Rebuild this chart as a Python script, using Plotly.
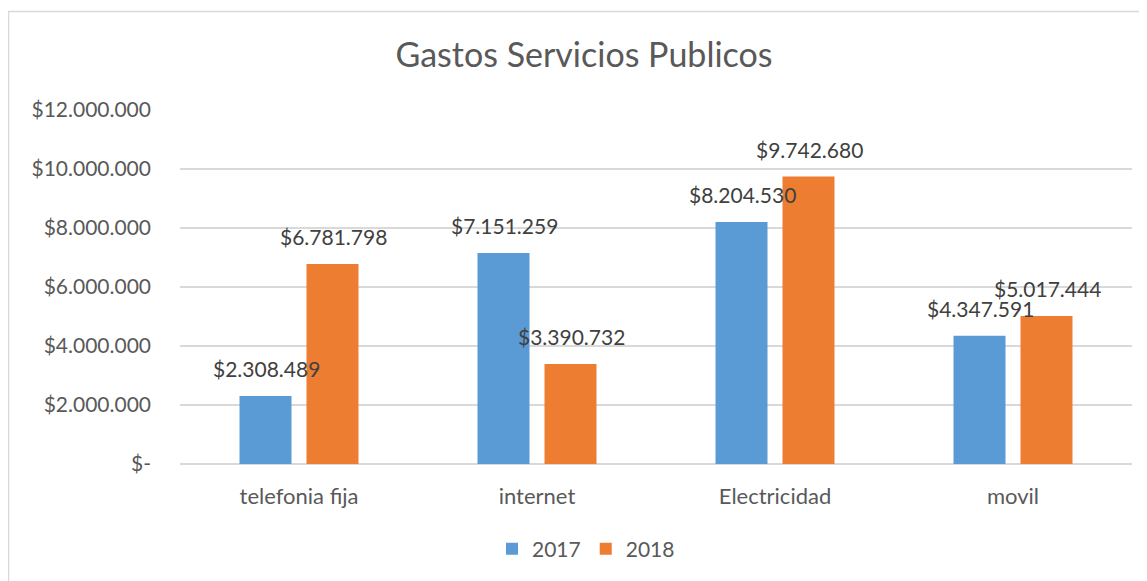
import plotly.graph_objects as go

categories = ["telefonia fija", "internet", "Electricidad", "movil"]
series_names = ["2017", "2018"]
values_2017 = [2308489, 7151259, 8204530, 4347591]
values_2018 = [6781798, 3390732, 9742680, 5017444]
tick_vals = [0, 2000000, 4000000, 6000000, 8000000, 10000000, 12000000]
tick_text = ["$-", "$2.000.000", "$4.000.000", "$6.000.000", "$8.000.000", "$10.000.000", "$12.000.000"]
colors = ["#5B9BD5", "#ED7D31"]

W, H = 1147, 581
OFF = 8  # page body margin
L, T = 180 - OFF, 110 - OFF
pw, ph = 952, 354
R, B = W - L - pw, H - T - ph

def px_x(p):
    return (p - OFF - L) / pw

def px_y(p):
    return (T + ph - (p - OFF)) / ph

def fmt(v):
    return "$" + f"{v:,}".replace(",", ".")

FONT = "Lato, 'Open Sans', sans-serif"

fig = go.Figure()
all_vals = [values_2017, values_2018]
for name, vals, col in zip(series_names, all_vals, colors):
    fig.add_trace(go.Bar(
        x=categories, y=vals, name=name,
        marker=dict(color=col, line=dict(width=0)),
    ))

# data labels
shifts = [-33.5, 33.5]
for vals, sh in zip(all_vals, shifts):
    for c, v in zip(categories, vals):
        fig.add_annotation(
            x=c, y=v, xref="x", yref="y", text=fmt(v), showarrow=False,
            xshift=sh + 1, yshift=13, yanchor="bottom",
            font=dict(family=FONT, size=21, color="#404040"),
        )

# chart border
fig.add_shape(type="rect", xref="paper", yref="paper",
              x0=px_x(8.5), x1=px_x(1170), y0=px_y(11.5), y1=px_y(620),
              line=dict(color="#D9D9D9", width=1.5), fillcolor="rgba(0,0,0,0)", layer="below")

fig.update_layout(
    width=W, height=H,
    margin=dict(l=L, r=R, t=T, b=B, pad=0),
    paper_bgcolor="white", plot_bgcolor="white",
    barmode="group", bargap=0.437, bargroupgap=0.224,
    title=dict(text="Gastos Servicios Publicos", x=(584 - OFF) / W, xanchor="center",
               y=1 - (55 - OFF) / H, yanchor="middle",
               font=dict(family=FONT, size=34, color="#595959")),
    legend=dict(orientation="h", x=px_x(586), xanchor="center", y=px_y(549), yanchor="middle",
                font=dict(family=FONT, size=21, color="#595959"),
                traceorder="normal"),
    font=dict(family=FONT, color="#595959"),
    xaxis=dict(showgrid=False, showline=False, zeroline=False, ticks="",
               tickfont=dict(family=FONT, size=22, color="#595959"),
               ticklabelstandoff=17),
    yaxis=dict(range=[0, 12000000], tickvals=tick_vals, ticktext=tick_text,
               showgrid=True, gridcolor="#D9D9D9", gridwidth=1.5,
               zeroline=True, zerolinecolor="#D9D9D9", zerolinewidth=1.5,
               showline=False, ticks="",
               tickfont=dict(family=FONT, size=21, color="#595959"),
               ticklabelstandoff=28),
)

fig.write_html("out.html")
